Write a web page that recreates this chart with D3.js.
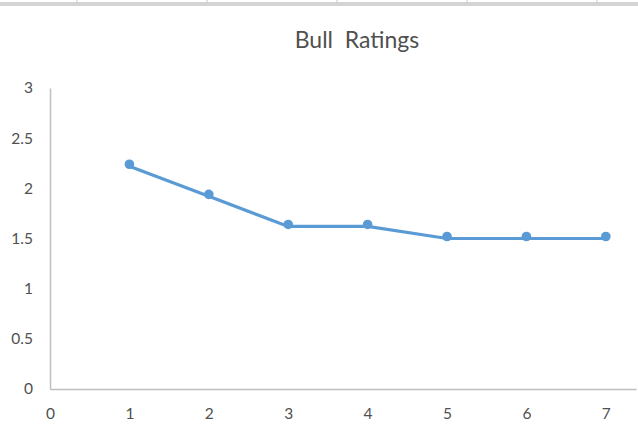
<!DOCTYPE html>
<html><head><meta charset="utf-8">
<script src="https://cdn.jsdelivr.net/npm/d3@7"></script>
<style>body{margin:0;background:#fff}svg{display:block}</style>
</head><body>
<svg id="c" width="638" height="430"></svg>
<script>
const xValues = [1, 2, 3, 4, 5, 6, 7];
const ratings = [2.22, 1.92, 1.62, 1.62, 1.5, 1.5, 1.5];
const xTicks = [0, 1, 2, 3, 4, 5, 6, 7];
const yTicks = [0, 0.5, 1, 1.5, 2, 2.5, 3];
const title = "Bull\u00a0\u00a0Ratings";
const cellBorders = [77, 207, 337, 467, 597];

const svg = d3.select("#c");
const x = d3.scaleLinear().domain([0, 7.38]).range([50, 636]);
const y = d3.scaleLinear().domain([0, 3]).range([389, 88]);
const font = "Lato, Open Sans, sans-serif";
const textColor = "#505050";

// spreadsheet strip at top
svg.append("rect").attr("x",0).attr("y",2).attr("width",638).attr("height",4).attr("fill","#d4d4d4");
svg.selectAll(".cb").data(cellBorders).enter().append("line")
  .attr("x1",d=>d).attr("x2",d=>d).attr("y1",0).attr("y2",3)
  .attr("stroke","#c8c8c8").attr("stroke-width",1);

// title
svg.append("text").attr("x",357).attr("y",48).attr("text-anchor","middle")
  .attr("font-family",font).attr("font-size",23).attr("fill",textColor).text(title);

// axes
const yAxis = d3.axisLeft(y).tickValues(yTicks).tickSize(0).tickPadding(17).tickFormat(d3.format("~g"));
const gy = svg.append("g").attr("transform","translate(50,0)").call(yAxis);
gy.select(".domain").attr("stroke","#bfbfbf").attr("stroke-width",1.5);
gy.selectAll("text").attr("font-family",font).attr("font-size",15.5).attr("fill",textColor);

const xAxis = d3.axisBottom(x).tickValues(xTicks).tickSize(0).tickPadding(19).tickFormat(d3.format("d"));
const gx = svg.append("g").attr("transform","translate(0,389)").call(xAxis);
gx.select(".domain").attr("stroke","#bfbfbf").attr("stroke-width",1.5);
gx.selectAll("text").attr("font-family",font).attr("font-size",15.5).attr("fill",textColor);

// line
const data = xValues.map((v,i)=>({x:v,y:ratings[i]}));
svg.append("path").datum(data)
  .attr("fill","none").attr("stroke","#5b9bd5").attr("stroke-width",3.2)
  .attr("d", d3.line().x(d=>x(d.x)).y(d=>y(d.y)));
svg.append("g").attr("transform","translate(0,-2)")
  .selectAll("circle").data(data).enter().append("circle")
  .attr("cx",d=>x(d.x)).attr("cy",d=>y(d.y)).attr("r",4.8).attr("fill","#5b9bd5");
</script>
</body></html>
